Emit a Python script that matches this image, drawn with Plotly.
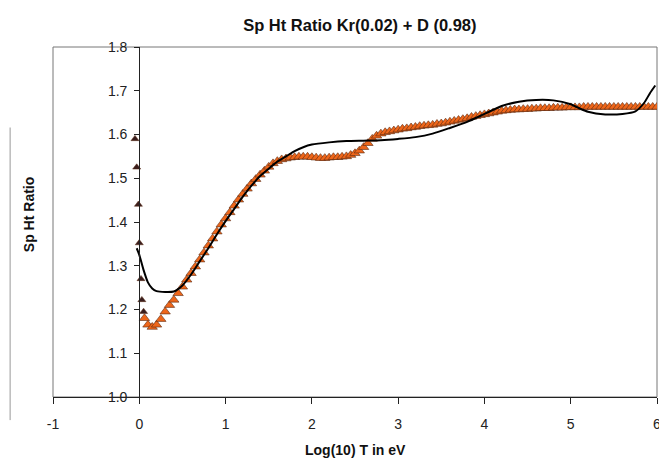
import plotly.graph_objects as go

title_text = "Sp Ht Ratio Kr(0.02) + D (0.98)"
x_title = "Log(10) T in eV"
y_title = "Sp Ht Ratio"

# low-temperature points near x = 0
low_x = [-0.05, -0.03, -0.01, 0.00, 0.02, 0.03, 0.05]
low_y = [1.590, 1.525, 1.440, 1.352, 1.270, 1.222, 1.195]

# main data band
band_x = [0.06, 0.10, 0.15, 0.20, 0.25, 0.30, 0.35, 0.40, 0.45, 0.50,
          0.55, 0.60, 0.65, 0.70, 0.75, 0.80, 0.85, 0.90, 0.95, 1.00,
          1.05, 1.10, 1.15, 1.20, 1.25, 1.30, 1.35, 1.40, 1.45, 1.50,
          1.55, 1.60, 1.65, 1.70, 1.75, 1.80, 1.85, 1.90, 1.95, 2.00,
          2.05, 2.10, 2.15, 2.20, 2.25, 2.30, 2.35, 2.40, 2.45, 2.50,
          2.55, 2.60, 2.65, 2.70, 2.75, 2.80, 2.85, 2.90, 2.95, 3.00,
          3.05, 3.10, 3.15, 3.20, 3.25, 3.30, 3.35, 3.40, 3.45, 3.50,
          3.55, 3.60, 3.65, 3.70, 3.75, 3.80, 3.85, 3.90, 3.95, 4.00,
          4.05, 4.10, 4.15, 4.20, 4.25, 4.30, 4.35, 4.40, 4.45, 4.50,
          4.55, 4.60, 4.65, 4.70, 4.75, 4.80, 4.85, 4.90, 4.95, 5.00,
          5.05, 5.10, 5.15, 5.20, 5.25, 5.30, 5.35, 5.40, 5.45, 5.50,
          5.55, 5.60, 5.65, 5.70, 5.75, 5.80, 5.85, 5.90, 5.95, 6.00]
band_y = [1.180, 1.165, 1.160, 1.165, 1.178, 1.195, 1.210, 1.222, 1.237, 1.252,
          1.268, 1.283, 1.298, 1.314, 1.330, 1.346, 1.362, 1.378, 1.394, 1.408,
          1.422, 1.437, 1.451, 1.464, 1.476, 1.488, 1.498, 1.508, 1.517, 1.526,
          1.534, 1.539, 1.543, 1.545, 1.547, 1.548, 1.549, 1.549, 1.549, 1.548,
          1.547, 1.546, 1.546, 1.547, 1.548, 1.548, 1.549, 1.550, 1.553, 1.557,
          1.563, 1.571, 1.580, 1.590, 1.597, 1.602, 1.605, 1.607, 1.609, 1.611,
          1.613, 1.614, 1.616, 1.617, 1.619, 1.620, 1.621, 1.622, 1.624, 1.625,
          1.627, 1.629, 1.631, 1.633, 1.635, 1.637, 1.640, 1.642, 1.644, 1.646,
          1.648, 1.650, 1.652, 1.654, 1.655, 1.656, 1.657, 1.657, 1.658, 1.658,
          1.659, 1.659, 1.660, 1.660, 1.660, 1.661, 1.661, 1.661, 1.662, 1.662,
          1.662, 1.662, 1.663, 1.663, 1.663, 1.663, 1.663, 1.663, 1.663, 1.663,
          1.663, 1.663, 1.663, 1.663, 1.663, 1.663, 1.663, 1.663, 1.663, 1.663]

# fitted curve
fit_x = [-0.03, 0.00, 0.05, 0.10, 0.15, 0.20, 0.30, 0.40, 0.50, 0.60,
         0.70, 0.80, 0.90, 1.00, 1.10, 1.20, 1.30, 1.40, 1.50, 1.60,
         1.70, 1.80, 1.90, 2.00, 2.20, 2.40, 2.60, 2.80, 3.00, 3.20,
         3.40, 3.60, 3.80, 4.00, 4.20, 4.40, 4.60, 4.80, 5.00, 5.10,
         5.20, 5.40, 5.60, 5.75, 5.85, 5.92, 5.98]
fit_y = [1.340, 1.325, 1.290, 1.262, 1.248, 1.242, 1.240, 1.241, 1.255, 1.280,
         1.310, 1.340, 1.372, 1.402, 1.430, 1.458, 1.483, 1.505, 1.522, 1.538,
         1.550, 1.562, 1.571, 1.577, 1.582, 1.585, 1.586, 1.587, 1.590, 1.594,
         1.602, 1.615, 1.629, 1.647, 1.665, 1.675, 1.679, 1.678, 1.669, 1.660,
         1.652, 1.646, 1.647, 1.653, 1.672, 1.695, 1.712]

x_ticks = [-1, 0, 1, 2, 3, 4, 5, 6]
x_tick_labels = ["-1", "0", "1", "2", "3", "4", "5", "6"]
y_ticks = [1.0, 1.1, 1.2, 1.3, 1.4, 1.5, 1.6, 1.7, 1.8]

fig = go.Figure()
fig.add_trace(go.Scatter(
    x=band_x, y=band_y, mode="markers",
    marker=dict(symbol="triangle-up", size=9, color="#EE661A",
                line=dict(color="#5A2A12", width=0.6)),
    showlegend=False))
fig.add_trace(go.Scatter(
    x=low_x, y=low_y, mode="markers",
    marker=dict(symbol="triangle-up", size=7, color="#3A1E1E",
                line=dict(color="#5A2A12", width=0.5)),
    showlegend=False))
fig.add_trace(go.Scatter(
    x=fit_x, y=fit_y, mode="lines",
    line=dict(color="black", width=2, shape="spline", smoothing=0.6),
    showlegend=False))

font_family = "Liberation Sans, Arial, sans-serif"

# page body has an 8px margin: figure is shrunk by 8px to fit the window
fig.update_layout(
    width=659, height=451,
    margin=dict(l=45, r=6, t=39, b=62),
    paper_bgcolor="white", plot_bgcolor="white",
    font=dict(family=font_family, size=14, color="#222"),
    title=dict(text="<b>" + title_text + "</b>", x=0.508, xref="paper",
               xanchor="center", y=1 - 17 / 451, yanchor="middle",
               font=dict(size=16.5, color="#111")),
    xaxis=dict(range=[-1, 6], tickvals=x_ticks, ticktext=x_tick_labels,
               ticks="outside", ticklen=6, ticklabelstandoff=8,
               tickcolor="#222", showline=True, linecolor="#222", linewidth=1.2,
               showgrid=False, zeroline=False, mirror=False,
               tickfont=dict(size=14)),
    yaxis=dict(range=[1.0, 1.8], tickvals=y_ticks, tickformat=".1f",
               anchor="free", position=1 / 7, ticks="outside", ticklen=5,
               ticklabelstandoff=4,
               tickcolor="#222", showline=True, linecolor="#222", linewidth=1.2,
               showgrid=False, zeroline=False, tickfont=dict(size=14)),
    shapes=[
        dict(type="rect", xref="paper", yref="paper", x0=0, y0=0, x1=1, y1=1,
             line=dict(color="#777", width=1), layer="below"),
        dict(type="line", xref="paper", yref="paper", x0=-0.071, x1=-0.071,
             y0=0.77, y1=-0.066, line=dict(color="#999", width=1)),
    ],
    annotations=[
        dict(text="<b>" + x_title + "</b>", xref="paper", yref="paper",
             x=0.5, y=(397 - 450) / 350, xanchor="center", yanchor="middle",
             showarrow=False, font=dict(size=14, color="#111")),
        dict(text="<b>" + y_title + "</b>", xref="paper", yref="paper",
             x=(29 - 53) / 608, y=(397 - 215) / 350, xanchor="center",
             yanchor="middle", textangle=-90, showarrow=False,
             font=dict(size=14, color="#111")),
    ],
)

fig.write_html("out.html")
